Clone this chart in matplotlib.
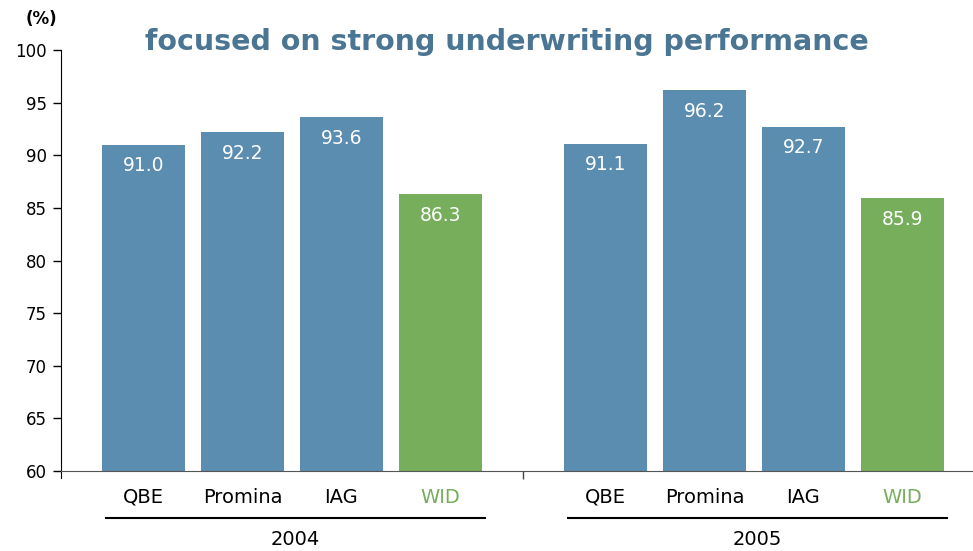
import matplotlib.pyplot as plt
from matplotlib.lines import Line2D

years = ['2004', '2005']
companies = ['QBE', 'Promina', 'IAG', 'WID']
ratio_2004 = [91.0, 92.2, 93.6, 86.3]
ratio_2005 = [91.1, 96.2, 92.7, 85.9]

blue = '#5b8db0'
green = '#76ae5b'
title_col = '#4a7593'

fig = plt.figure(figsize=(9.73, 5.51), dpi=100)
ax = fig.add_axes([61/973, 80/551, (973-61)/973, 421/551])

gap = 4.6667  # offset of the 2005 group
pos = []
vals = []
cols = []
names = []
for g, data in enumerate([ratio_2004, ratio_2005]):
    for i, v in enumerate(data):
        pos.append(i + g*gap)
        vals.append(v)
        names.append(companies[i])
        cols.append(green if companies[i] == 'WID' else blue)

heights = [v - 60 for v in vals]
ax.bar(pos, heights, bottom=60, width=0.84, color=cols)
for x, v in zip(pos, vals):
    ax.text(x, v - 1.1, '%.1f' % v, ha='center', va='top', color='white', fontsize=13.5)

ax.set_xlim(-0.833, 8.38)
ax.set_ylim(60, 100)
ax.set_yticks(range(60, 101, 5))
ax.tick_params(axis='y', labelsize=12, length=6, width=1, pad=4)
ax.set_xticks([(3 + gap)/2])
ax.set_xticklabels([''])
ax.tick_params(axis='x', length=6, width=1, color='#444444')
for s in ['top', 'right']:
    ax.spines[s].set_visible(False)
ax.spines['bottom'].set_color('#555555')
ax.spines['left'].set_bounds(59.3, 100)

# category labels, underlines and year labels
for x, n in zip(pos, names):
    ax.text(x, 57.5, n, ha='center', va='center', fontsize=14,
            color=green if n == 'WID' else 'black')
for g, yr in enumerate(years):
    x0 = g*gap - 0.38
    x1 = g*gap + 3.45
    ax.add_line(Line2D([x0, x1], [55.55, 55.55], color='black', lw=1.5, clip_on=False))
    ax.text((x0 + x1)/2, 53.5, yr, ha='center', va='center', fontsize=14)

fig.text(41/973, 1 - 19/551, '(%)', ha='center', va='center', fontsize=12, fontweight='bold')
fig.text(507/973, 1 - 42/551, 'focused on strong underwriting performance',
         ha='center', va='center', fontsize=20.5, fontweight='bold', color=title_col)

fig.savefig('out.png', dpi=100)
